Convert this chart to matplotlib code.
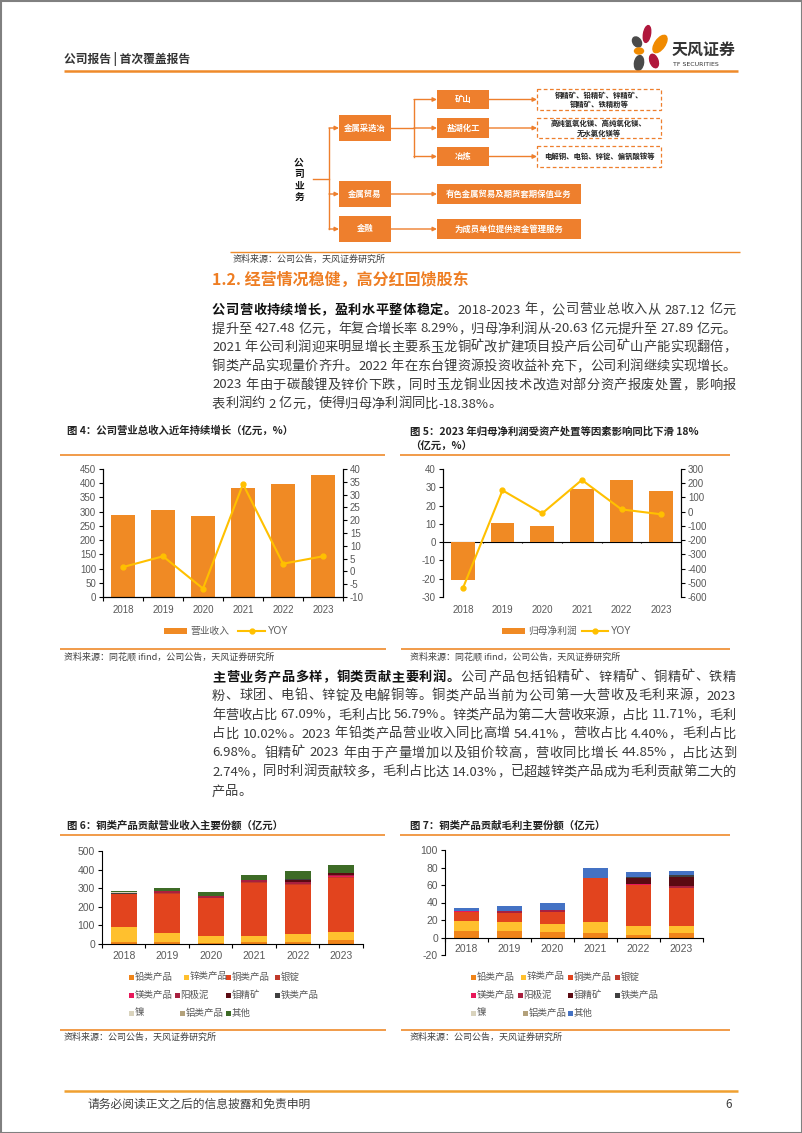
import matplotlib
matplotlib.use('Agg')
import matplotlib.pyplot as plt
from matplotlib.patches import Rectangle, Ellipse
from matplotlib.font_manager import FontProperties
import numpy as np

# ---------------- data ----------------
years = ['2018', '2019', '2020', '2021', '2022', '2023']

revenue = [287.12, 305, 284, 384, 396, 427.48]
revenue_yoy = [1.7, 5.9, -6.7, 34.1, 3.0, 5.9]

net_profit = [-20.63, 10.2, 8.9, 29.3, 34.2, 27.89]
net_profit_yoy = [-539, 150, -12, 223, 16, -18.38]

product_names = ['铅类产品', '锌类产品', '铜类产品', '银锭', '镁类产品', '阳极泥',
                 '钼精矿', '铁类产品', '镍', '铝类产品', '其他']

rev_lead = [10, 10, 8, 10, 12, 19]
rev_zinc = [79, 47, 37, 35, 42, 48]
rev_copper = [179, 214, 201, 284, 262, 290]
rev_silver = [0, 3, 2, 3, 4, 5]
rev_magnesium = [2, 2, 2, 3, 5, 4]
rev_anode = [0, 8, 6, 8, 8, 4]
rev_moly = [0, 0, 0, 0, 10, 12]
rev_iron = [3, 0, 0, 0, 8, 0]
rev_nickel = [4, 0, 0, 0, 0, 0]
rev_aluminum = [4, 0, 0, 0, 0, 0]
rev_other = [5, 16, 22, 27, 40, 43]

gp_lead = [7, 7, 6, 5, 3, 5]
gp_zinc = [12, 10.5, 9.6, 13, 10.3, 7.6]
gp_copper = [10.7, 10.3, 13.4, 50, 46.7, 43.5]
gp_silver = [0, 0, 0, 0, 0.5, 0.5]
gp_magnesium = [0.5, 0.5, 0.5, 0.5, 0.5, 0.5]
gp_anode = [0, 1.5, 2.5, 0, 0.5, 1.5]
gp_moly = [0, 0, 0, 0, 6, 10.7]
gp_iron = [0, 0, 0, 0, 2, 2]
gp_nickel = [0, 0, 0, 0, 0, 0]
gp_aluminum = [0, 0, 0, 0, 0, 0]
gp_other = [3.3, 6.4, 7, 11.5, 5.9, 5.2]

rev_stack = [rev_lead, rev_zinc, rev_copper, rev_silver, rev_magnesium, rev_anode,
             rev_moly, rev_iron, rev_nickel, rev_aluminum, rev_other]
gp_stack = [gp_lead, gp_zinc, gp_copper, gp_silver, gp_magnesium, gp_anode,
            gp_moly, gp_iron, gp_nickel, gp_aluminum, gp_other]

# ---------------- style ----------------
ORANGE = '#EF8A2A'
BAR = '#F08A24'
GOLD = '#FFC000'
TICK = '#595959'
prod_colors = ['#F08419', '#FFC02E', '#E2441E', '#C0392B', '#E8185A', '#A8203F',
               '#5A0A12', '#404040', '#D9D3BD', '#B3A17B', '#3D6B26']
prod_colors7 = prod_colors[:-1] + ['#4472C4']

W, H = 802, 1133
plt.rcParams['font.family'] = ['Noto Sans CJK SC', 'DejaVu Sans']
plt.rcParams['axes.unicode_minus'] = False

fig = plt.figure(figsize=(W / 100, H / 100), dpi=100)
ov = fig.add_axes([0, 0, 1, 1])
ov.set_xlim(0, W)
ov.set_ylim(H, 0)
ov.axis('off')
renderer = fig.canvas.get_renderer()


def rect_px(l, t, r, b):
    return [l / W, 1 - b / H, (r - l) / W, (b - t) / H]


def T(x, y, s, size=7, color='#333333', weight='normal', ha='left', va='center', **kw):
    ov.text(x, y, s, fontsize=size, color=color, fontweight=weight, ha=ha, va=va, **kw)


def hline(x1, x2, y, color=ORANGE, lw=1.2):
    ov.plot([x1, x2], [y, y], color=color, lw=lw, solid_capstyle='butt')


# ---------------- page frame, header, footer ----------------
ov.add_patch(Rectangle((0.5, 0.5), W - 1, H - 1, fill=False, ec='#808080', lw=1.5))
T(64, 59, '公司报告 | 首次覆盖报告', size=8.5, color='#333333', weight='bold')
hline(64, 738, 70.5, color=ORANGE, lw=1.8)

# logo
ov.add_patch(Ellipse((647, 34), 7, 17, angle=10, color='#B0173C'))
ov.add_patch(Ellipse((637, 42), 8, 11, angle=-35, color='#4A4A4A'))
ov.add_patch(Ellipse((660, 44), 10, 20, angle=35, color='#F08A00'))
ov.add_patch(Ellipse((639, 51), 9, 6, angle=0, color='#F08A00'))
ov.add_patch(Ellipse((654, 61), 8, 14, angle=-20, color='#B0173C'))
ov.add_patch(Ellipse((639, 63), 9, 15, angle=10, color='#4A4A4A'))
T(672, 50, '天风证券', size=11.5, color='#333333', weight='bold')
T(673, 64, 'TF SECURITIES', size=4.5, color='#333333', family='DejaVu Sans')

hline(64, 738, 1091, color='#F0A030', lw=1.8)
T(88, 1104, '请务必阅读正文之后的信息披露和免责申明', size=8.5, color='#404040')
T(729, 1104, '6', size=8.5, color='#404040', ha='center')

# ---------------- org chart ----------------
BOX = '#EE7F2D'


def arrow(x1, x2, y):
    ov.annotate('', xy=(x2, y), xytext=(x1, y),
                arrowprops=dict(arrowstyle='-|>', color=BOX, lw=1.0, mutation_scale=6,
                                shrinkA=0, shrinkB=0))


def obox(l, t, r, b, s, size=6):
    ov.add_patch(Rectangle((l, t), r - l, b - t, color=BOX, lw=0))
    T((l + r) / 2, (t + b) / 2, s, size=size, color='white', weight='bold', ha='center')


def dbox(l, t, r, b, s):
    ov.add_patch(Rectangle((l, t), r - l, b - t, fill=False, ec=BOX, lw=0.9, ls=(0, (3, 2))))
    T((l + r) / 2, (t + b) / 2, s, size=5.3, color='#222222', weight='bold', ha='center',
      linespacing=1.3)


for ch, yy in zip('公司业务', [162, 174, 186, 198]):
    T(299, yy, ch, size=7, color='#111111', weight='bold', ha='center')
ov.plot([313, 329], [179, 179], color=BOX, lw=1.0)
ov.plot([329, 329], [128, 229], color=BOX, lw=1.0)
for yy in [128, 194, 229]:
    arrow(329, 339, yy)
obox(339, 115, 391, 141, '金属采选冶')
obox(339, 181, 391, 207, '金属贸易')
obox(339, 216, 391, 242, '金融')
ov.plot([391, 414], [128, 128], color=BOX, lw=1.0)
ov.plot([414, 414], [99.5, 156.5], color=BOX, lw=1.0)
l2 = [('矿山', 90, 109, '铜精矿、铅精矿、锌精矿、\n钼精矿、铁精粉等', 89, 110),
      ('盐湖化工', 118, 138, '高纯氢氧化镁、高纯氧化镁、\n无水氯化镁等', 118, 138),
      ('冶炼', 147, 166, '电解铜、电铅、锌锭、偏钒酸铵等', 146, 167)]
for name, t, b, desc, dt, db in l2:
    yc = (t + b) / 2
    arrow(414, 437, yc)
    obox(437, t, 489, b, name)
    arrow(489, 537, yc)
    dbox(537, dt, 661, db, desc)
arrow(391, 437, 194)
obox(437, 184, 581, 204, '有色金属贸易及期货套期保值业务')
arrow(391, 437, 229)
obox(437, 219, 581, 239, '为成员单位提供资金管理服务')
hline(230, 740, 252, color=ORANGE, lw=1.0)
T(233, 259, '资料来源：公司公告，天风证券研究所', size=6.5, color='#404040')

# ---------------- section heading & paragraphs ----------------
T(212, 280, '1.2. 经营情况稳健，高分红回馈股东', size=11.5, color='#EE7D22', weight='bold')

fp_n = FontProperties(family=['Noto Sans CJK SC'], size=9.5, weight='normal')
fp_b = FontProperties(family=['Noto Sans CJK SC'], size=9.5, weight='bold')
_wcache = {}


def tw(s, fp):
    key = (s, fp.get_weight())
    if key not in _wcache:
        w1 = renderer.get_text_width_height_descent('国' + s + '国', fp, ismath=False)[0]
        w0 = renderer.get_text_width_height_descent('国国', fp, ismath=False)[0]
        _wcache[key] = w1 - w0
    return _wcache[key]


def tokenize(s):
    toks, buf = [], ''
    for ch in s:
        if ord(ch) > 0x2E80 or ch == ' ':
            if buf:
                toks.append(buf)
                buf = ''
            toks.append(ch)
        else:
            buf += ch
    if buf:
        toks.append(buf)
    return toks


def para_line(x0, x1, y, segments, justify=True):
    toks = []
    for text, bold in segments:
        for t in tokenize(text):
            toks.append((t, fp_b if bold else fp_n, '#111111' if bold else '#3A3A3A'))
    widths = []
    for t, fp, c in toks:
        widths.append(0.25 * 13.2 if t == ' ' else tw(t, fp))
    nat = sum(widths)
    gap = (x1 - x0 - nat) / (len(toks) - 1) if justify and len(toks) > 1 else 0
    x = x0
    for (t, fp, c), w in zip(toks, widths):
        if t != ' ':
            ov.text(x, y, t, fontproperties=fp, color=c, ha='left', va='center')
        x += w + gap


p1 = [
    [('公司营收持续增长，盈利水平整体稳定。', True), ('2018-2023 年，公司营业总收入从 287.12 亿元', False)],
    [('提升至 427.48 亿元，年复合增长率 8.29%，归母净利润从-20.63 亿元提升至 27.89 亿元。', False)],
    [('2021 年公司利润迎来明显增长主要系玉龙铜矿改扩建项目投产后公司矿山产能实现翻倍，', False)],
    [('铜类产品实现量价齐升。2022 年在东台锂资源投资收益补充下，公司利润继续实现增长。', False)],
    [('2023 年由于碳酸锂及锌价下跌，同时玉龙铜业因技术改造对部分资产报废处置，影响报', False)],
    [('表利润约 2 亿元，使得归母净利润同比-18.38%。', False)],
]
p1_y = [310, 329, 347.5, 366.5, 385, 404]
for i, (segs, yy) in enumerate(zip(p1, p1_y)):
    para_line(212, 736, yy, segs, justify=(i < len(p1) - 1))

p2 = [
    [('主营业务产品多样，铜类贡献主要利润。', True), ('公司产品包括铅精矿、锌精矿、铜精矿、铁精', False)],
    [('粉、球团、电铅、锌锭及电解铜等。铜类产品当前为公司第一大营收及毛利来源，2023', False)],
    [('年营收占比 67.09%，毛利占比 56.79%。锌类产品为第二大营收来源，占比 11.71%，毛利', False)],
    [('占比 10.02%。2023 年铅类产品营业收入同比高增 54.41%，营收占比 4.40%，毛利占比', False)],
    [('6.98%。钼精矿 2023 年由于产量增加以及钼价较高，营收同比增长 44.85%，占比达到', False)],
    [('2.74%，同时利润贡献较多，毛利占比达 14.03%，已超越锌类产品成为毛利贡献第二大的', False)],
    [('产品。', False)],
]
p2_y = [677, 696, 715, 734, 753, 772, 792]
for i, (segs, yy) in enumerate(zip(p2, p2_y)):
    para_line(212, 736, yy, segs, justify=(i < len(p2) - 1))

# ---------------- chart frames (titles, lines, sources) ----------------
T(67, 431, '图 4：公司营业总收入近年持续增长（亿元，%）', size=7.5, color='#222222', weight='bold')
T(410, 431, '图 5：2023 年归母净利润受资产处置等因素影响同比下滑 18%', size=7.5, color='#222222', weight='bold')
T(410, 447, '（亿元，%）', size=7.5, color='#222222', weight='bold')
hline(60, 385, 455)
hline(400, 730, 455)
hline(60, 386, 649)
hline(401, 730, 649)
T(64, 657.5, '资料来源：同花顺 ifind，公司公告，天风证券研究所', size=6.5, color='#404040')
T(410, 657.5, '资料来源：同花顺 ifind，公司公告，天风证券研究所', size=6.5, color='#404040')

T(67, 826, '图 6：铜类产品贡献营业收入主要份额（亿元）', size=7.5, color='#222222', weight='bold')
T(410, 826, '图 7：铜类产品贡献毛利主要份额（亿元）', size=7.5, color='#222222', weight='bold')
hline(60, 385, 835)
hline(400, 730, 835)
hline(60, 386, 1030)
hline(401, 730, 1030)
T(64, 1037.5, '资料来源：公司公告，天风证券研究所', size=6.5, color='#404040')
T(410, 1037.5, '资料来源：公司公告，天风证券研究所', size=6.5, color='#404040')

TFONT = 'Liberation Sans'
x = np.arange(len(years))


def style_ax(ax, size=7):
    ax.patch.set_alpha(0)
    for lab in ax.get_xticklabels() + ax.get_yticklabels():
        lab.set_family(TFONT)
        lab.set_fontsize(size)
        lab.set_color(TICK)
    ax.tick_params(axis='both', length=3, width=0.8, pad=2)


# ---------------- Figure 4 ----------------
ax4 = fig.add_axes(rect_px(103, 469, 343, 597))
ax4.bar(x, revenue, width=0.6, color=BAR, zorder=2)
ax4.set_xlim(-0.5, 5.5)
ax4.set_ylim(0, 450)
ax4.set_yticks(np.arange(0, 451, 50))
ax4.set_xticks(x)
ax4.set_xticklabels(years)
ax4.set_xticks(np.arange(-0.5, 6, 1), minor=True)
ax4.tick_params(axis='x', which='major', length=0, pad=6)
ax4.tick_params(axis='x', which='minor', length=3, width=0.8)
ax4.spines['top'].set_visible(False)
for s in ['left', 'bottom', 'right']:
    ax4.spines[s].set_linewidth(0.8)
ax4b = ax4.twinx()
ax4b.plot(x, revenue_yoy, color=GOLD, lw=1.5, marker='o', ms=3.5, zorder=3)
ax4b.set_ylim(-10, 40)
ax4b.set_yticks(np.arange(-10, 41, 5))
ax4b.spines['top'].set_visible(False)
ax4b.spines['right'].set_linewidth(0.8)
style_ax(ax4)
style_ax(ax4b)
ax4.tick_params(axis='x', which='major', length=0, pad=6)

# legend fig 4
ov.add_patch(Rectangle((164, 628), 23, 6, color=BAR, lw=0))
T(190, 631, '营业收入', size=7, color=TICK)
ov.plot([238, 265], [631, 631], color=GOLD, lw=1.5)
ov.plot([251.5], [631], marker='o', ms=3.5, color=GOLD)
T(268, 631, 'YOY', size=7, color=TICK, family=TFONT)

# ---------------- Figure 5 ----------------
ax5 = fig.add_axes(rect_px(443, 469, 681, 597))
ax5.bar(x, net_profit, width=0.6, color=BAR, zorder=2)
ax5.set_xlim(-0.5, 5.5)
ax5.set_ylim(-30, 40)
ax5.set_yticks(np.arange(-30, 41, 10))
ax5.set_xticks(x)
ax5.set_xticklabels(years)
ax5.axhline(0, color='black', lw=0.8, zorder=1)
ax5.vlines(np.arange(0.5, 5, 1), -0.6, 0, color='black', lw=0.8)
ax5.spines['top'].set_visible(False)
ax5.spines['bottom'].set_visible(False)
ax5.spines['left'].set_linewidth(0.8)
ax5b = ax5.twinx()
ax5b.plot(x, net_profit_yoy, color=GOLD, lw=1.5, marker='o', ms=3.5, zorder=3)
ax5b.set_ylim(-600, 300)
ax5b.set_yticks(np.arange(-600, 301, 100))
ax5b.spines['top'].set_visible(False)
ax5b.spines['bottom'].set_visible(False)
ax5b.spines['right'].set_linewidth(0.8)
style_ax(ax5)
style_ax(ax5b)
ax5.tick_params(axis='x', length=0, pad=6)

ov.add_patch(Rectangle((502, 628), 23, 6, color=BAR, lw=0))
T(528, 631, '归母净利润', size=7, color=TICK)
ov.plot([582, 608], [631, 631], color=GOLD, lw=1.5)
ov.plot([595], [631], marker='o', ms=3.5, color=GOLD)
T(611, 631, 'YOY', size=7, color=TICK, family=TFONT)


# ---------------- Figures 6 & 7 ----------------
def stacked(ax, stack, colors):
    bottom = np.zeros(len(years))
    for vals, c in zip(stack, colors):
        v = np.array(vals, dtype=float)
        ax.bar(x, v, width=0.6, bottom=bottom, color=c, zorder=2, lw=0)
        bottom += v


ax6 = fig.add_axes(rect_px(102, 851, 363, 944))
stacked(ax6, rev_stack, prod_colors)
ax6.set_xlim(-0.5, 5.5)
ax6.set_ylim(0, 500)
ax6.set_yticks(np.arange(0, 501, 100))
ax6.set_xticks(x)
ax6.set_xticklabels(years)
ax6.set_xticks(np.arange(-0.5, 6, 1), minor=True)
for s in ['top', 'right']:
    ax6.spines[s].set_visible(False)
for s in ['left', 'bottom']:
    ax6.spines[s].set_linewidth(0.8)
style_ax(ax6, size=7.5)
ax6.tick_params(axis='x', which='major', length=0, pad=5)
ax6.tick_params(axis='x', which='minor', length=3, width=0.8)

ax7 = fig.add_axes(rect_px(445, 850, 703, 955))
stacked(ax7, gp_stack, prod_colors7)
ax7.set_xlim(-0.5, 5.5)
ax7.set_ylim(-20, 100)
ax7.set_yticks(np.arange(-20, 101, 20))
ax7.set_xticks(x)
ax7.set_xticklabels(years)
ax7.set_xticks(np.arange(-0.5, 6, 1), minor=True)
ax7.spines['bottom'].set_position(('data', 0))
for s in ['top', 'right']:
    ax7.spines[s].set_visible(False)
for s in ['left', 'bottom']:
    ax7.spines[s].set_linewidth(0.8)
style_ax(ax7, size=7.5)
ax7.tick_params(axis='x', which='major', length=0, pad=5)
ax7.tick_params(axis='x', which='minor', length=3, width=0.8)


def legend_grid(xs_rows, ys, colors):
    k = 0
    for row, yy in zip(xs_rows, ys):
        for xm in row:
            ov.add_patch(Rectangle((xm - 2.5, yy - 2.5), 5, 5, color=colors[k], lw=0))
            T(xm + 3.5, yy, product_names[k], size=6.8, color=TICK)
            k += 1


legend_grid([[131, 186, 228, 277], [131, 177, 228, 277], [131, 182, 228]],
            [977, 995, 1013], prod_colors)
legend_grid([[473, 523, 570, 617], [473, 520, 570, 617], [473, 525, 570]],
            [977, 995, 1013], prod_colors7)

fig.savefig('out.png', dpi=100)
